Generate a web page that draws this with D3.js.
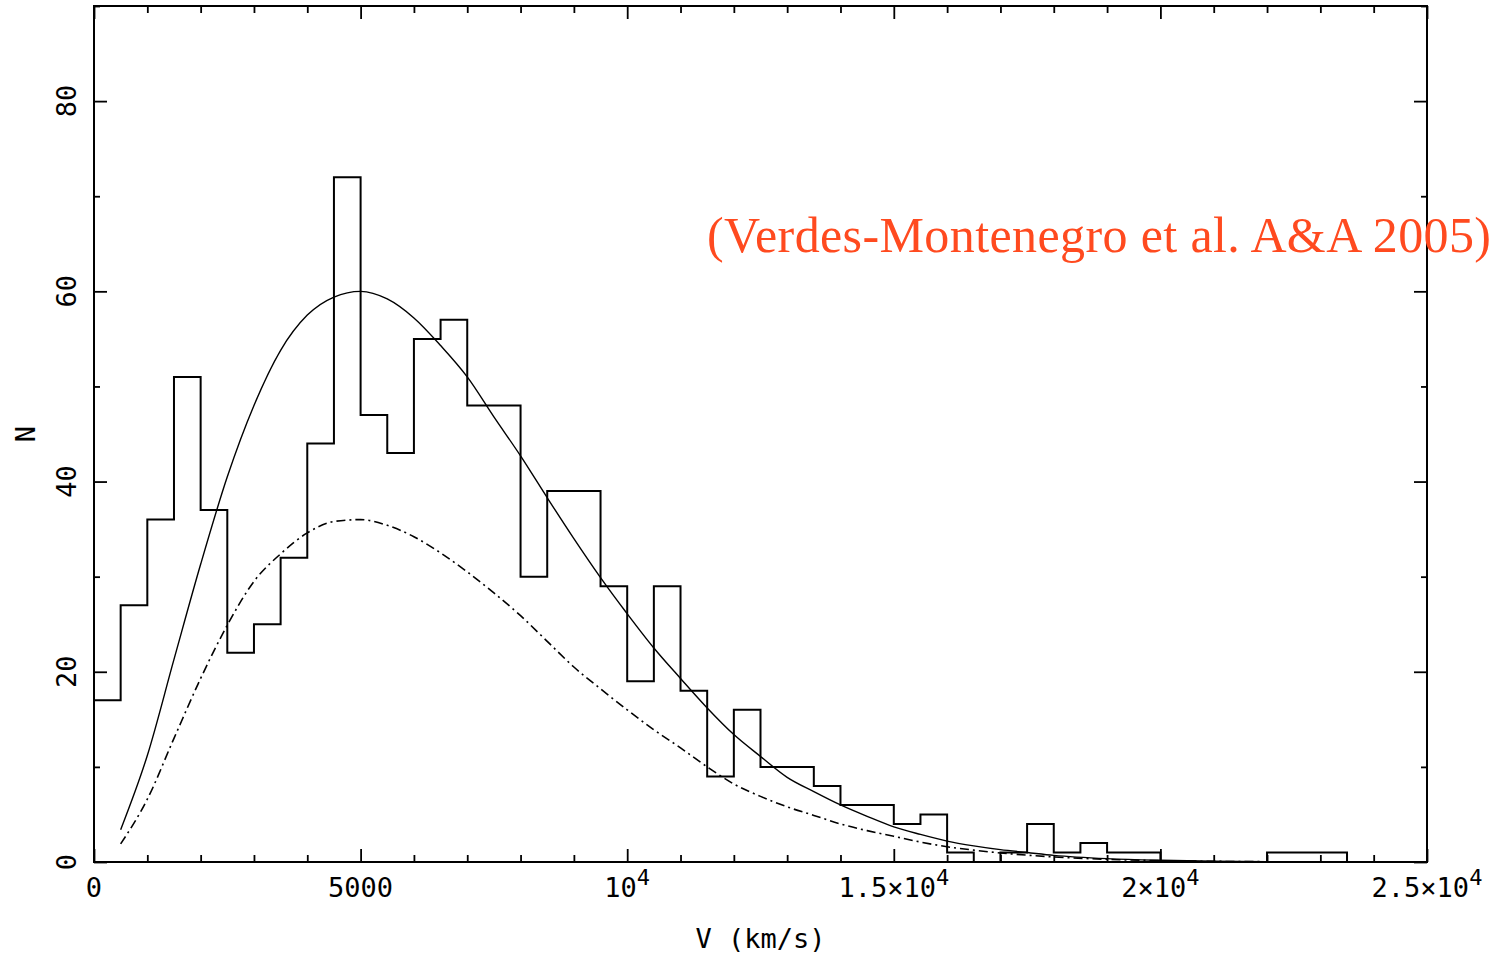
<!DOCTYPE html>
<html>
<head>
<meta charset="utf-8">
<script src="https://cdn.jsdelivr.net/npm/d3@7"></script>
<style>
  html, body { margin: 0; padding: 0; background: #fff; }
  svg { display: block; }
  .lbl { font-family: "DejaVu Sans Mono", monospace; font-size: 27px; fill: #000; }
</style>
</head>
<body>
<svg id="chart" width="1492" height="954"></svg>
<script>
// Histogram of recession velocities: 500 km/s bins starting at 0
const binWidth = 500;
const counts = [
  17, 27, 36, 51, 37, 22, 25, 32, 44, 72,
  47, 43, 55, 57, 48, 48, 30, 39, 39, 29,
  19, 29, 18, 9, 16, 10, 10, 8, 6, 6,
  4, 5, 1, 0, 1, 4, 1, 2, 1, 1,
  0, 0, 0, 0, 1, 1, 1, 0, 0, 0
];

// Model curves sampled in velocity (km/s)
const curveV = [500, 1000, 1500, 2000, 2500, 3000, 3500, 4000, 4500, 5000,
  5500, 6000, 6500, 7000, 7500, 8000, 8500, 9000, 9500, 10000,
  10500, 11000, 11500, 12000, 12500, 13000, 13500, 14000, 14500, 15000,
  15500, 16000, 16500, 17000, 17500, 18000, 19000, 20000, 21000, 22000];
const fullModel = [3.4, 11.2, 21.3, 31.3, 40.5, 48.0, 53.8, 57.5, 59.4, 60.0,
  59.2, 57.2, 54.3, 51.0, 46.8, 42.7, 38.3, 34.0, 29.9, 26.1,
  22.5, 19.3, 16.2, 13.4, 11.1, 8.9, 7.4, 6.0, 4.8, 3.7,
  2.9, 2.2, 1.7, 1.3, 1.0, 0.7, 0.35, 0.18, 0.09, 0.04];
const scaledModel = [1.9, 6.6, 13.0, 19.3, 24.9, 29.5, 32.4, 34.6, 35.8, 36.0,
  35.4, 34.2, 32.5, 30.5, 28.3, 25.9, 23.2, 20.5, 18.2, 16.0,
  13.9, 12.0, 10.0, 8.2, 6.9, 5.8, 4.9, 4.0, 3.3, 2.7,
  2.1, 1.6, 1.25, 0.95, 0.72, 0.53, 0.28, 0.14, 0.07, 0.03];

// Axis ticks and labels
const xMajor = [0, 5000, 10000, 15000, 20000, 25000];
const xMajorLabels = [["0", ""], ["5000", ""], ["10", "4"], ["1.5×10", "4"], ["2×10", "4"], ["2.5×10", "4"]];
const xMinorStep = 1000;
const yMajor = [0, 20, 40, 60, 80];
const yMinorStep = 10;

const svg = d3.select("#chart");
const L = 94, R = 1427, T = 6, B = 862;
const x = d3.scaleLinear().domain([0, 25000]).range([L, R]);
const y = d3.scaleLinear().domain([0, 90]).range([B, T]);

const xMinor = d3.range(0, 25001, xMinorStep).filter(v => !xMajor.includes(v));
const yMinor = d3.range(0, 91, yMinorStep).filter(v => !yMajor.includes(v));

// Inward ticks on all four sides
function tickAxis(axisFn, scale, values, size, transform) {
  const g = svg.append("g").attr("transform", transform)
    .call(axisFn(scale).tickValues(values).tickSize(size).tickFormat(""));
  g.select(".domain").remove();
  g.selectAll("line").attr("stroke", "#000").attr("stroke-width", 1.8);
}
tickAxis(d3.axisBottom, x, xMajor, -13, `translate(0,${B})`);
tickAxis(d3.axisBottom, x, xMinor, -7, `translate(0,${B})`);
tickAxis(d3.axisTop, x, xMajor, -13, `translate(0,${T})`);
tickAxis(d3.axisTop, x, xMinor, -7, `translate(0,${T})`);
tickAxis(d3.axisLeft, y, yMajor, -13, `translate(${L},0)`);
tickAxis(d3.axisLeft, y, yMinor, -6, `translate(${L},0)`);
tickAxis(d3.axisRight, y, yMajor, -13, `translate(${R},0)`);
tickAxis(d3.axisRight, y, yMinor, -6, `translate(${R},0)`);

// Histogram outline
const histPts = [[0, 0]];
counts.forEach((c, i) => {
  histPts.push([i * binWidth, c]);
  histPts.push([(i + 1) * binWidth, c]);
});
histPts.push([counts.length * binWidth, 0]);
svg.append("path")
  .attr("d", d3.line().x(d => x(d[0])).y(d => y(d[1]))(histPts))
  .attr("fill", "none").attr("stroke", "#000").attr("stroke-width", 2)
  .attr("stroke-linejoin", "miter");

// Model curves
const curveLine = d3.line().x(d => x(d[0])).y(d => y(d[1])).curve(d3.curveMonotoneX);
svg.append("path")
  .attr("d", curveLine(curveV.map((v, i) => [v, fullModel[i]])))
  .attr("fill", "none").attr("stroke", "#000").attr("stroke-width", 1.4);
svg.append("path")
  .attr("d", curveLine(curveV.map((v, i) => [v, scaledModel[i]])))
  .attr("fill", "none").attr("stroke", "#000").attr("stroke-width", 1.6)
  .attr("stroke-dasharray", "9,4,2,4");

// Frame
svg.append("rect").attr("x", L).attr("y", T).attr("width", R - L).attr("height", B - T)
  .attr("fill", "none").attr("stroke", "#000").attr("stroke-width", 2);

// X tick labels with exponents
const xl = svg.append("g").selectAll("text").data(xMajor).join("text")
  .attr("class", "lbl").attr("x", d => x(d)).attr("y", 897)
  .attr("text-anchor", "middle");
xl.append("tspan").text((d, i) => xMajorLabels[i][0]);
xl.append("tspan").attr("dy", -12).style("font-size", "22px").text((d, i) => xMajorLabels[i][1]);

// Y tick labels, rotated
svg.append("g").selectAll("text").data(yMajor).join("text")
  .attr("class", "lbl").attr("text-anchor", "middle")
  .attr("transform", d => `translate(76,${y(d)}) rotate(-90)`)
  .text(d => d);

// Axis titles
svg.append("text").attr("class", "lbl").attr("x", (L + R) / 2).attr("y", 948)
  .attr("text-anchor", "middle").text("V (km/s)");
svg.append("text").attr("class", "lbl").attr("text-anchor", "middle")
  .attr("transform", `translate(35,${(T + B) / 2}) rotate(-90)`).text("N");

// Reference note
svg.append("text").attr("x", 707).attr("y", 252)
  .style("font-family", "'Liberation Serif', serif").style("font-size", "50px")
  .attr("textLength", 784).attr("lengthAdjust", "spacing")
  .attr("fill", "#ff4a1f")
  .text("(Verdes-Montenegro et al. A&A 2005)");
</script>
</body>
</html>
